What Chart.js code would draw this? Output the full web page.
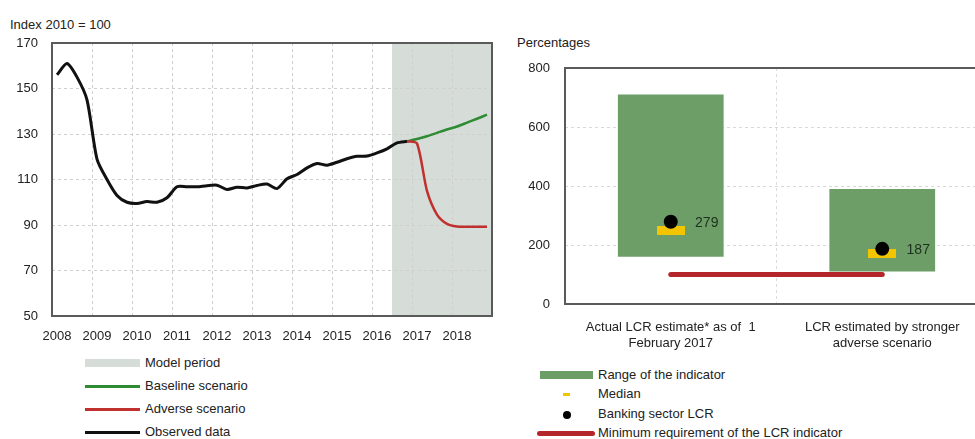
<!DOCTYPE html>
<html>
<head>
<meta charset="utf-8">
<script src="https://cdn.jsdelivr.net/npm/chart.js@4.4.0/dist/chart.umd.min.js"></script>
<style>
  body { margin: 0; width: 975px; height: 439px; overflow: hidden; background: #fff;
         font-family: "Liberation Sans", Arial, sans-serif; color: #222; position: relative; }
  canvas { position: absolute; }
  .unit { position: absolute; font-size: 13px; line-height: 16px; }
  .leg { position: absolute; font-size: 13px; line-height: 16px; white-space: nowrap; }
  .sw { position: absolute; }
</style>
</head>
<body>
<div class="unit" style="left:10px;top:17px;">Index 2010 = 100</div>
<div class="unit" style="left:517px;top:35px;">Percentages</div>
<canvas id="left" width="500" height="350" style="left:0;top:0;"></canvas>
<canvas id="right" width="500" height="362" style="left:500px;top:0;"></canvas>

<!-- left legend -->
<div class="sw" style="left:85px;top:359px;width:55px;height:8px;background:#d6dcd8;"></div>
<div class="leg" style="left:145px;top:355px;">Model period</div>
<div class="sw" style="left:85px;top:385px;width:55px;height:3px;background:#2e8b34;"></div>
<div class="leg" style="left:145px;top:378px;">Baseline scenario</div>
<div class="sw" style="left:85px;top:408px;width:55px;height:3px;background:#c0302e;"></div>
<div class="leg" style="left:145px;top:401px;">Adverse scenario</div>
<div class="sw" style="left:85px;top:431px;width:55px;height:3px;background:#111;"></div>
<div class="leg" style="left:145px;top:424px;">Observed data</div>

<!-- right legend -->
<div class="sw" style="left:540px;top:371px;width:53px;height:8px;background:#6e9e68;"></div>
<div class="leg" style="left:598px;top:367px;">Range of the indicator</div>
<div class="sw" style="left:563px;top:393px;width:7px;height:3px;background:#f2c500;"></div>
<div class="leg" style="left:598px;top:386px;">Median</div>
<div class="sw" style="left:563px;top:411px;width:8px;height:8px;border-radius:50%;background:#000;"></div>
<div class="leg" style="left:598px;top:406px;">Banking sector LCR</div>
<div class="sw" style="left:537px;top:431px;width:58px;height:5px;border-radius:3px;background:#b5262a;"></div>
<div class="leg" style="left:598px;top:425px;">Minimum requirement of the LCR indicator</div>

<script>
// ---- left chart data: quarterly index, 2008Q1 onwards ----
const startYear = 2008;
const observed = [156, 161, 155, 145, 119, 110, 103, 100, 99.5, 100.3, 100, 102,
                  106.8, 106.8, 106.8, 107.3, 107.5, 105.6, 106.6, 106.3, 107.4, 108, 106, 110.3,
                  112.2, 115.1, 117, 116.3, 117.6, 119.1, 120.2, 120.3, 121.7, 123.5, 126.1, 126.8];
const scenarioStart = 35;  // quarter index where scenarios branch off
const baseline = [126.8, 127.8, 129, 130.5, 132, 133.3, 135, 136.7, 138.5];
const adverse = [126.8, 125.8, 105, 94.6, 90.5, 89.3, 89.2, 89.2, 89.2];
const modelPeriodStart = 2016.5;
const yearTicks = [2008, 2009, 2010, 2011, 2012, 2013, 2014, 2015, 2016, 2017, 2018];

// ---- right chart data ----
const lcrCategories = [['Actual LCR estimate* as of  1', 'February 2017'],
                       ['LCR estimated by stronger', 'adverse scenario']];
const rangeLow = [160, 110];
const rangeHigh = [710, 390];
const median = [250, 172];
const bankingLCR = [279, 187];
const minRequirement = [100, 100];

const qx = i => startYear + 0.125 + 0.25 * i;
const toPoints = (arr, offset) => arr.map((v, i) => ({ x: qx(i + offset), y: v }));

const FONT = { family: '"Liberation Sans", Arial, sans-serif', size: 13 };
Chart.defaults.color = '#222';
Chart.defaults.font = FONT;

// draws a plain box round the plot area
const boxPlugin = {
    id: 'box',
    afterDraw(chart) {
        const a = chart.chartArea, ctx = chart.ctx;
        ctx.save();
        ctx.strokeStyle = '#5a5a5a';
        ctx.lineWidth = 2;
        ctx.strokeRect(a.left, a.top, a.right - a.left, a.bottom - a.top);
        ctx.restore();
    }
};

// grey shading for the model period (under the grid)
const shadePlugin = {
    id: 'shade',
    beforeDraw(chart) {
        const a = chart.chartArea, ctx = chart.ctx;
        const x0 = chart.scales.x.getPixelForValue(modelPeriodStart);
        ctx.save();
        ctx.fillStyle = '#d6dcd8';
        ctx.fillRect(x0, a.top, a.right - x0, a.bottom - a.top);
        ctx.restore();
    }
};

new Chart(document.getElementById('left'), {
    type: 'line',
    data: {
        datasets: [
            { label: 'Observed data', data: toPoints(observed, 0), borderColor: '#111',
              borderWidth: 3, tension: 0.25, pointRadius: 0, order: 0 },
            { label: 'Adverse scenario', data: toPoints(adverse, scenarioStart), borderColor: '#c0302e',
              borderWidth: 2.5, tension: 0.25, pointRadius: 0, order: 1 },
            { label: 'Baseline scenario', data: toPoints(baseline, scenarioStart), borderColor: '#2e8b34',
              borderWidth: 2.5, tension: 0.25, pointRadius: 0, order: 2 }
        ]
    },
    options: {
        responsive: false,
        animation: false,
        layout: { padding: { top: 43, right: 8, left: 0, bottom: 0 } },
        plugins: { legend: { display: false }, tooltip: { enabled: false } },
        scales: {
            x: {
                type: 'linear', min: 2008, max: 2019,
                afterBuildTicks: s => { s.ticks = yearTicks.concat([2019]).map(v => ({ value: v })); },
                afterFit: s => { s.height = 34; s.paddingLeft = 0; s.paddingRight = 0; },
                ticks: { callback: v => (v === 2019 ? '' : String(v)), autoSkip: false, maxRotation: 0,
                          labelOffset: 5, padding: 13, color: '#222' },
                grid: { color: '#cfcfcf', drawTicks: false },
                border: { display: false, dash: [3, 3] }
            },
            y: {
                min: 50, max: 170,
                afterFit: s => { s.width = 52; },
                ticks: { stepSize: 20, padding: 14, color: '#222' },
                grid: { color: '#cfcfcf', drawTicks: false },
                border: { display: false, dash: [3, 3] }
            }
        }
    },
    plugins: [shadePlugin, boxPlugin]
});

// yellow median marker
const medianMark = document.createElement('canvas');
medianMark.width = 28; medianMark.height = 9;
const mctx = medianMark.getContext('2d');
mctx.fillStyle = '#f2c500';
mctx.fillRect(0, 0, 28, 9);

// value labels next to the banking sector dots
const valueLabels = {
    id: 'valueLabels',
    afterDatasetsDraw(chart) {
        const meta = chart.getDatasetMeta(0), ctx = chart.ctx;
        ctx.save();
        ctx.font = '14px "Liberation Sans", Arial, sans-serif';
        ctx.fillStyle = '#1e301e';
        ctx.textAlign = 'center';
        ctx.textBaseline = 'middle';
        meta.data.forEach((pt, i) => ctx.fillText(String(bankingLCR[i]), pt.x + 36, pt.y + 1));
        ctx.restore();
    }
};

new Chart(document.getElementById('right'), {
    data: {
        labels: lcrCategories,
        datasets: [
            { type: 'line', label: 'Banking sector LCR', data: bankingLCR, showLine: false,
              pointRadius: 7, pointBackgroundColor: '#000', pointBorderWidth: 0, order: 0 },
            { type: 'line', label: 'Median', data: median, showLine: false,
              pointStyle: medianMark, order: 1 },
            { type: 'line', label: 'Minimum requirement of the LCR indicator', data: minRequirement,
              borderColor: '#b5262a', borderWidth: 5, borderCapStyle: 'round', pointRadius: 0, order: 2 },
            { type: 'bar', label: 'Range of the indicator',
              data: rangeLow.map((lo, i) => [lo, rangeHigh[i]]),
              backgroundColor: '#6e9e68', borderWidth: 0,
              barPercentage: 0.5, categoryPercentage: 1, order: 3 }
        ]
    },
    options: {
        responsive: false,
        animation: false,
        layout: { padding: { top: 68, right: 12, left: 0, bottom: 0 } },
        plugins: { legend: { display: false }, tooltip: { enabled: false } },
        scales: {
            x: {
                type: 'category', offset: true,
                afterFit: s => { s.height = 58; },
                ticks: { maxRotation: 0, autoSkip: false, padding: 15, color: '#222',
                         font: { size: 13, lineHeight: 1.25 } },
                grid: { offset: true, color: '#dcdcdc', drawTicks: false },
                border: { display: false, dash: [3, 3] }
            },
            y: {
                min: 0, max: 800,
                afterFit: s => { s.width = 65; },
                ticks: { stepSize: 200, padding: 15, color: '#222' },
                grid: { color: '#d8d8d8', drawTicks: false },
                border: { display: false, dash: [3, 3] }
            }
        }
    },
    plugins: [boxPlugin, valueLabels]
});
</script>
</body>
</html>
